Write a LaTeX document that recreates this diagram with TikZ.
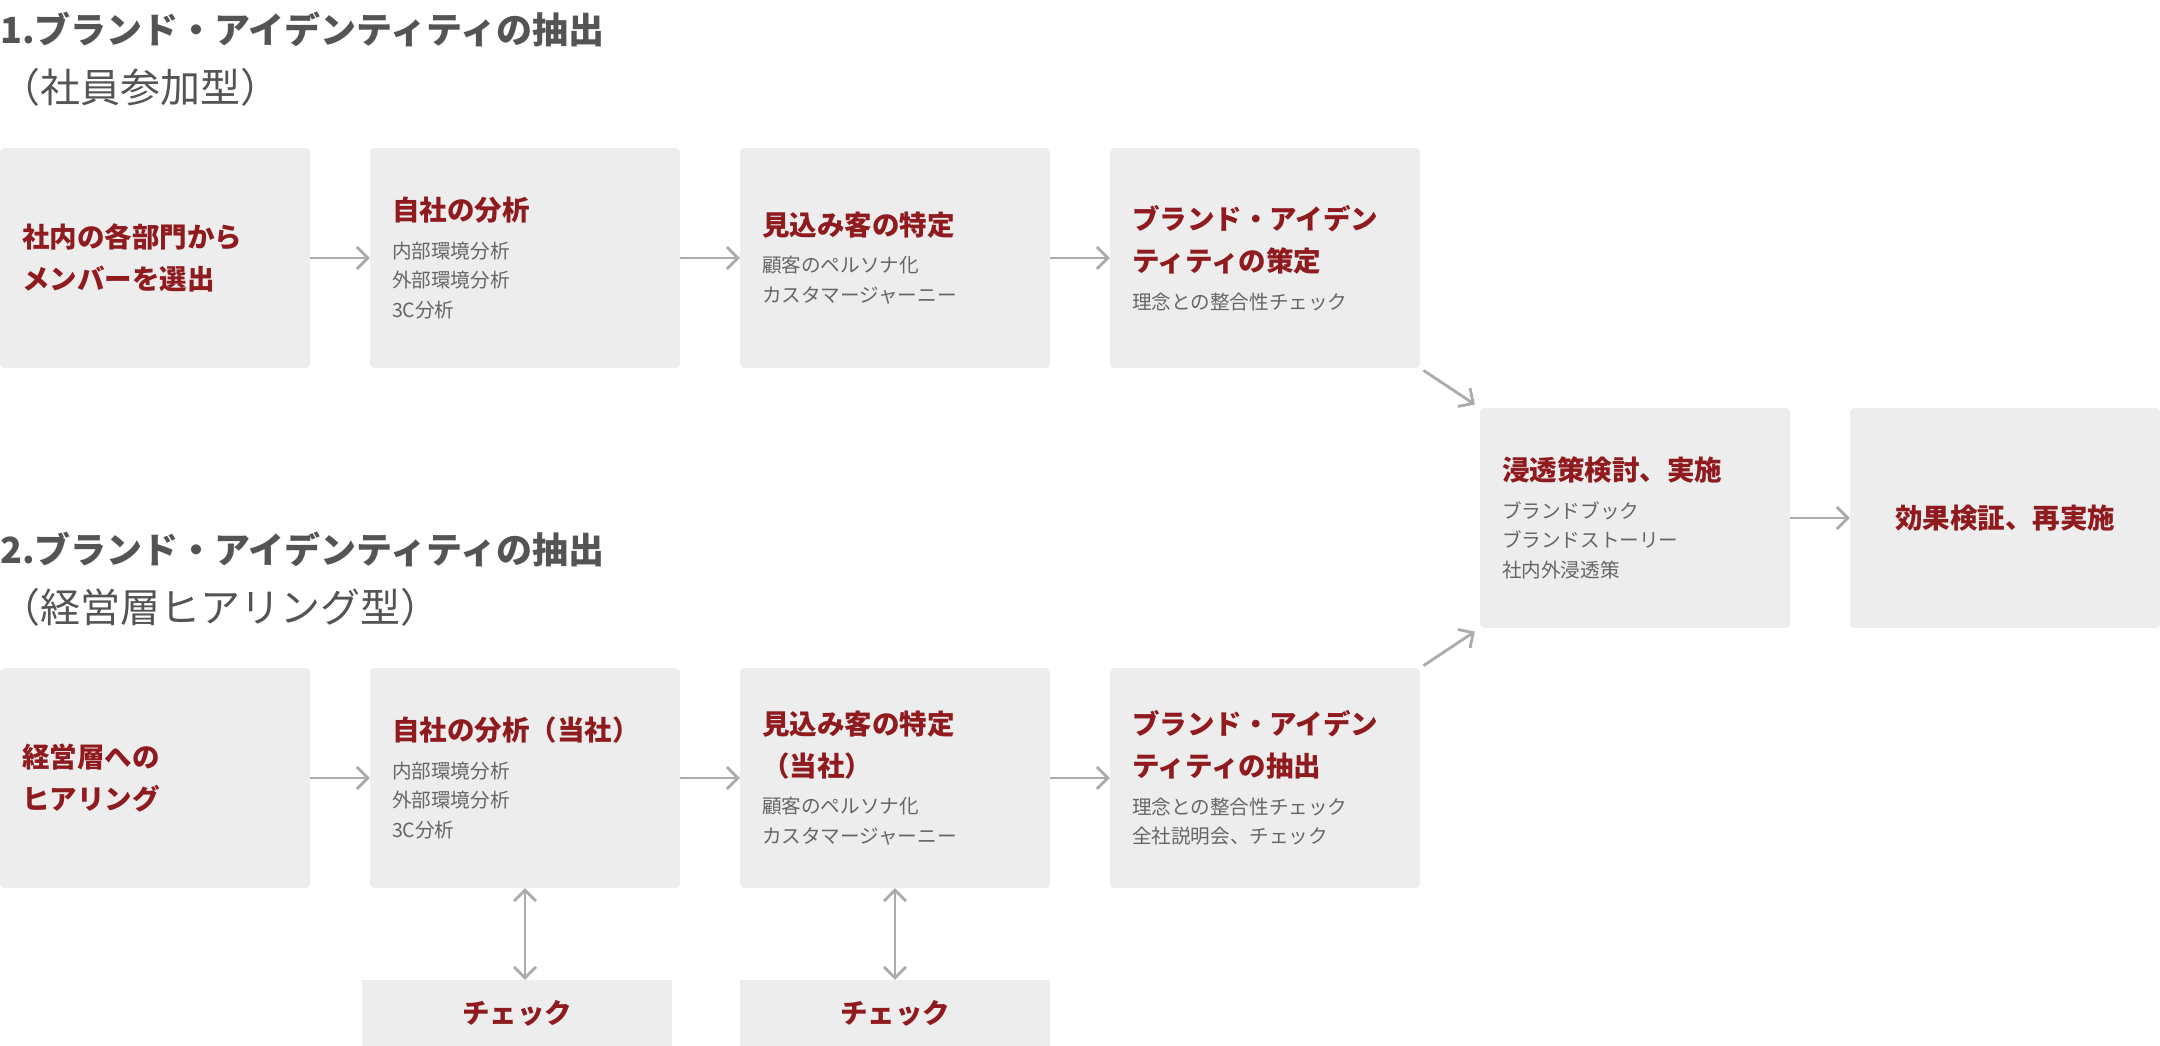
\documentclass[tikz,border=0pt]{standalone}
\usepackage{fontspec}
\setmainfont{Noto Sans CJK JP}
\usetikzlibrary{arrows.meta}

\definecolor{brandred}{RGB}{143,27,31}
\definecolor{titlegray}{RGB}{84,84,84}
\definecolor{notegray}{RGB}{102,102,102}
\definecolor{boxgray}{RGB}{237,237,237}
\definecolor{arrowgray}{RGB}{171,171,171}

\newcommand{\boxhead}[1]{{\color{brandred}\bfseries\fontsize{27.5}{41}\selectfont #1}}

\begin{document}
\begin{tikzpicture}[
    x=1pt,
    y=-1pt,
    title/.style={
        anchor=west,
        inner sep=0pt,
        text=titlegray,
        font=\bfseries\fontsize{36}{43}\selectfont
    },
    subtitle/.style={
        anchor=west,
        inner sep=0pt,
        text=titlegray,
        font=\fontsize{40}{48}\selectfont
    },
    stage/.style={
        fill=boxgray,
        rounded corners=4pt,
        minimum width=310pt,
        minimum height=220pt,
        text width=266pt,
        inner xsep=22pt,
        inner ysep=0pt,
        align=left,
        text=notegray,
        font=\fontsize{19.6}{29.5}\selectfont
    },
    checkbox/.style={
        fill=boxgray,
        minimum width=310pt,
        minimum height=66pt,
        inner sep=0pt,
        align=center
    },
    flow/.style={
        ->,
        arrowgray,
        >={Straight Barb[length=11pt,width=22pt]},
        line width=2.8pt
    },
    both ways/.style={
        flow,
        <->
    }
]

\useasboundingbox (0,0) rectangle (2160,1046);

\node[title] (T1) at (0,29) {1.ブランド・アイデンティティの抽出};
\node[subtitle] (S1) at (0,87) {（社員参加型）};
\node[title] (T2) at (0,549) {2.ブランド・アイデンティティの抽出};
\node[subtitle] (S2) at (0,607) {（経営層ヒアリング型）};

\node[stage] (A1) at (155,258) {
    \boxhead{社内の各部門から\\[12.5pt]メンバーを選出}
};
\node[stage] (A2) at (525,258) {
    \boxhead{自社の分析}\\[8pt]
    内部環境分析\\
    外部環境分析\\
    3C分析
};
\node[stage] (A3) at (895,258) {
    \boxhead{見込み客の特定}\\[8pt]
    顧客のペルソナ化\\
    カスタマージャーニー
};
\node[stage] (A4) at (1265,258) {
    \boxhead{ブランド・アイデン\\[12.5pt]ティティの策定}\\[8pt]
    理念との整合性チェック
};

\node[stage] (P) at (1635,518) {
    \boxhead{浸透策検討、実施}\\[8pt]
    ブランドブック\\
    ブランドストーリー\\
    社内外浸透策
};
\node[stage,align=center] (E) at (2005,518) {
    \boxhead{効果検証、再実施}
};

\node[stage] (B1) at (155,778) {
    \boxhead{経営層への\\[12.5pt]ヒアリング}
};
\node[stage] (B2) at (525,778) {
    \boxhead{自社の分析（当社）}\\[8pt]
    内部環境分析\\
    外部環境分析\\
    3C分析
};
\node[stage] (B3) at (895,778) {
    \boxhead{見込み客の特定\\[12.5pt]（当社）}\\[8pt]
    顧客のペルソナ化\\
    カスタマージャーニー
};
\node[stage] (B4) at (1265,778) {
    \boxhead{ブランド・アイデン\\[12.5pt]ティティの抽出}\\[8pt]
    理念との整合性チェック\\
    全社説明会、チェック
};

\node[checkbox] (C1) at (517,1013) {\boxhead{チェック}};
\node[checkbox] (C2) at (895,1013) {\boxhead{チェック}};

\draw[flow] (A1) -- (A2);
\draw[flow] (A2) -- (A3);
\draw[flow] (A3) -- (A4);
\draw[flow,shorten <=4pt,shorten >=6pt] (A4.south east) -- (P.north west);

\draw[flow] (B1) -- (B2);
\draw[flow] (B2) -- (B3);
\draw[flow] (B3) -- (B4);
\draw[flow,shorten <=4pt,shorten >=6pt] (B4.north east) -- (P.south west);

\draw[flow] (P) -- (E);

\draw[both ways] (B2.south) -- (B2.south |- C1.north);
\draw[both ways] (B3) -- (C2);

\end{tikzpicture}
\end{document}
